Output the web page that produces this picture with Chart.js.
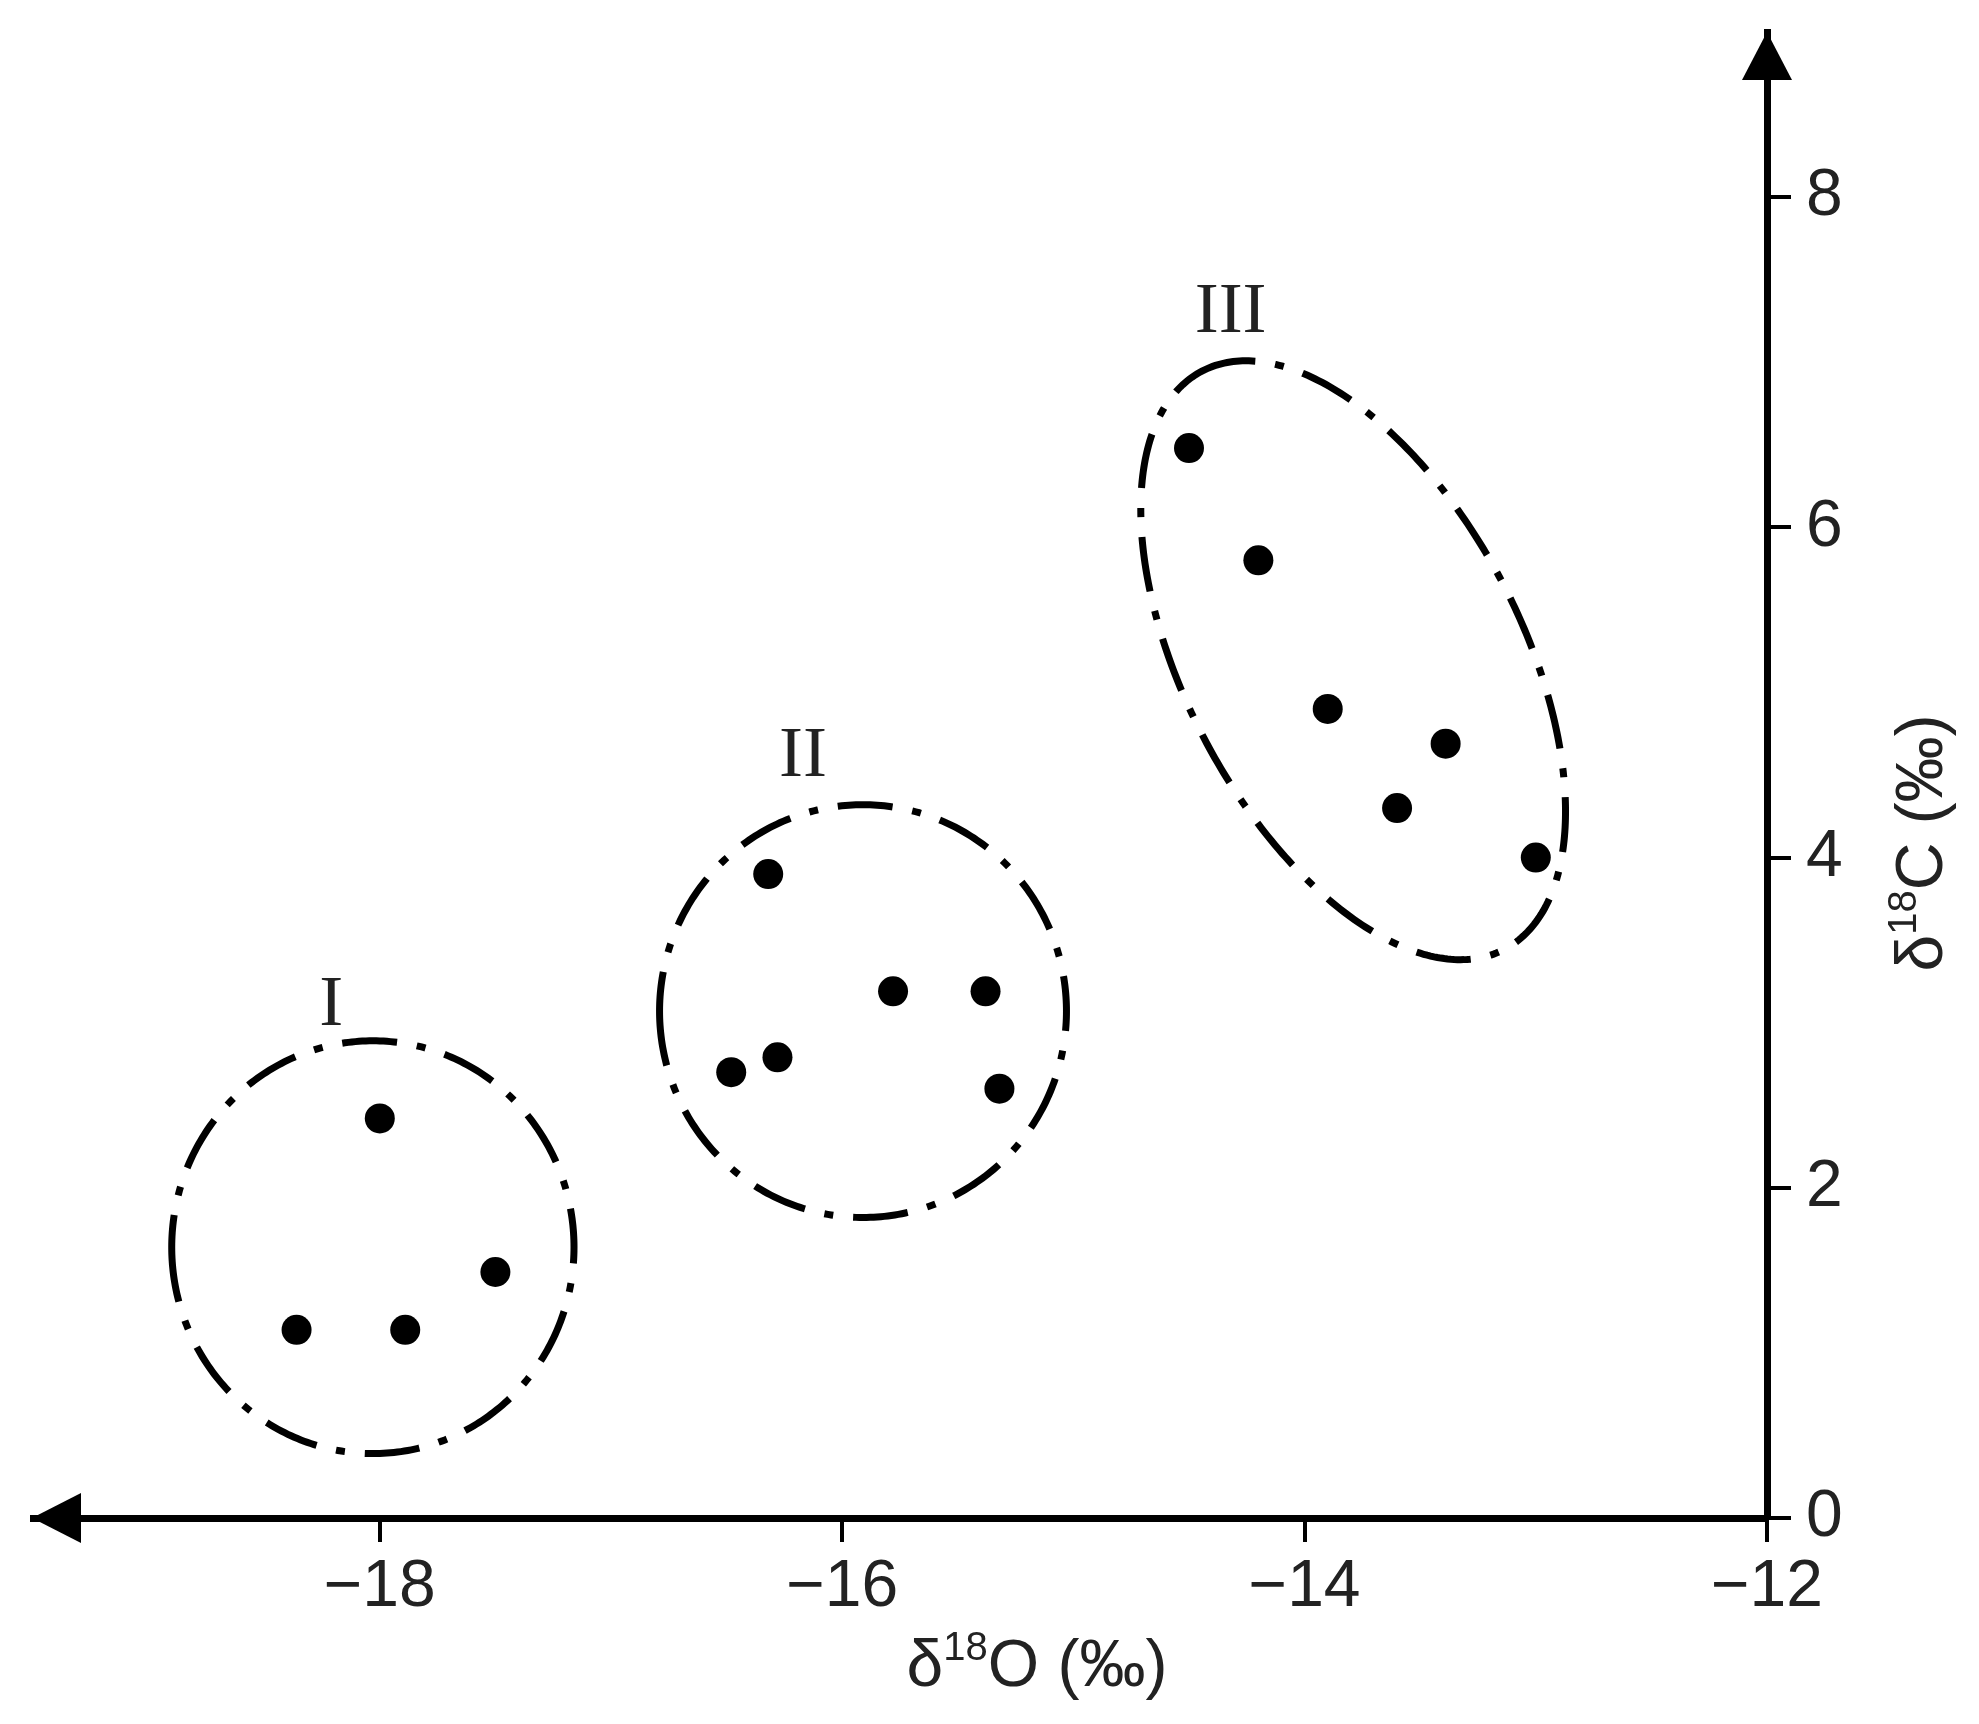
<!DOCTYPE html>
<html>
<head>
<meta charset="utf-8">
<script src="https://cdn.jsdelivr.net/npm/chart.js@4.4.1/dist/chart.umd.min.js"></script>
<style>
  html, body { margin: 0; padding: 0; background: #fff; }
</style>
</head>
<body>
<canvas id="myChart" width="1979" height="1724"></canvas>
<script>
// sample values (d18O on x, d13C on y) for each group
const groupI_x = [-18.0, -18.36, -17.89, -17.5];
const groupI_y = [2.42, 1.14, 1.14, 1.49];
const groupII_x = [-16.32, -16.48, -16.28, -15.78, -15.38, -15.32];
const groupII_y = [3.9, 2.7, 2.79, 3.19, 3.19, 2.6];
const groupIII_x = [-14.5, -14.2, -13.9, -13.39, -13.6, -13.0];
const groupIII_y = [6.48, 5.8, 4.9, 4.69, 4.3, 4.0];

const groupNames = ["I", "II", "III"];
const xTicks = [-18, -16, -14, -12];
const yTicks = [0, 2, 4, 6, 8];

// dashed envelopes round each group (data units): centre + two semi-axis vectors
const envCenterX = [-18.03, -15.91, -13.79];
const envCenterY = [1.64, 3.07, 5.195];
const envAxisU = [[0.87, 0], [0.88, 0], [0.654, -1.751]];
const envAxisV = [[0, 1.25], [0, 1.25], [-0.645, -0.472]];
const nameX = [-18.21, -16.17, -14.32];
const nameY = [3.1, 4.61, 7.3];

function pts(xs, ys) {
  return xs.map((x, i) => ({ x: x, y: ys[i] }));
}

function fmt(v) {
  return String(v).replace("-", "\u2212");
}

function deltaTitle(ctx, cx, cy, letter, angle) {
  const size = 66;
  const big = size + "px 'Liberation Sans'";
  const small = "40px 'Liberation Sans'";
  ctx.save();
  ctx.translate(cx, cy);
  ctx.rotate(angle);
  ctx.fillStyle = "#222";
  ctx.textAlign = "left";
  ctx.textBaseline = "alphabetic";
  const rest = letter + " (\u2030)";
  ctx.font = big;
  const w1 = ctx.measureText("\u03b4").width;
  const w3 = ctx.measureText(rest).width;
  ctx.font = small;
  const w2 = ctx.measureText("18").width;
  let x = -(w1 + w2 + w3) / 2;
  const base = size * 0.716 / 2;
  ctx.font = big;
  ctx.fillText("\u03b4", x, base);
  x += w1;
  ctx.font = small;
  ctx.fillText("18", x, base - 26);
  x += w2;
  ctx.font = big;
  ctx.fillText(rest, x, base);
  ctx.restore();
}

const decor = {
  id: "decor",
  beforeDatasetsDraw(chart) {
    const ctx = chart.ctx;
    const xs = chart.scales.x;
    const ys = chart.scales.y;
    ctx.save();
    ctx.strokeStyle = "#000";
    ctx.lineWidth = 7;
    ctx.setLineDash([55, 20, 9, 20]);
    for (let g = 0; g < envCenterX.length; g++) {
      ctx.beginPath();
      for (let k = 0; k <= 360; k++) {
        const t = (k / 360) * Math.PI * 2 + Math.PI;
        const dx = envAxisU[g][0] * Math.cos(t) + envAxisV[g][0] * Math.sin(t);
        const dy = envAxisU[g][1] * Math.cos(t) + envAxisV[g][1] * Math.sin(t);
        const px = xs.getPixelForValue(envCenterX[g] + dx);
        const py = ys.getPixelForValue(envCenterY[g] + dy);
        if (k === 0) ctx.moveTo(px, py);
        else ctx.lineTo(px, py);
      }
      ctx.closePath();
      ctx.stroke();
    }
    ctx.restore();
  },
  afterDraw(chart) {
    const ctx = chart.ctx;
    const a = chart.chartArea;
    const xs = chart.scales.x;
    const ys = chart.scales.y;
    ctx.save();
    // arrow heads
    ctx.fillStyle = "#000";
    ctx.beginPath();
    ctx.moveTo(a.left - 1, a.bottom);
    ctx.lineTo(a.left + 48, a.bottom - 25);
    ctx.lineTo(a.left + 48, a.bottom + 25);
    ctx.closePath();
    ctx.fill();
    ctx.beginPath();
    ctx.moveTo(a.right, a.top);
    ctx.lineTo(a.right - 25, a.top + 48);
    ctx.lineTo(a.right + 25, a.top + 48);
    ctx.closePath();
    ctx.fill();
    // group names
    ctx.fillStyle = "#222";
    ctx.font = "72px 'Liberation Serif'";
    ctx.textAlign = "center";
    ctx.textBaseline = "middle";
    for (let g = 0; g < groupNames.length; g++) {
      ctx.fillText(groupNames[g], xs.getPixelForValue(nameX[g]), ys.getPixelForValue(nameY[g]));
    }
    ctx.restore();
    deltaTitle(ctx, 1037, 1662, "O", 0);
    deltaTitle(ctx, 1918, 843, "C", -Math.PI / 2);
  }
};

const dotStyle = {
  pointRadius: 15,
  pointHoverRadius: 15,
  pointBorderWidth: 0,
  pointBackgroundColor: "#000",
  backgroundColor: "#000",
  borderColor: "#000"
};

new Chart("myChart", {
  type: "scatter",
  data: {
    datasets: [
      Object.assign({ label: "I", data: pts(groupI_x, groupI_y) }, dotStyle),
      Object.assign({ label: "II", data: pts(groupII_x, groupII_y) }, dotStyle),
      Object.assign({ label: "III", data: pts(groupIII_x, groupIII_y) }, dotStyle)
    ]
  },
  options: {
    responsive: false,
    animation: false,
    layout: { padding: { left: 33, top: 32, right: 0, bottom: 0 } },
    plugins: {
      legend: { display: false },
      tooltip: { enabled: false }
    },
    scales: {
      x: {
        type: "linear",
        position: "bottom",
        min: -19.5,
        max: -12,
        afterBuildTicks: (s) => { s.ticks = xTicks.map((v) => ({ value: v })); },
        afterFit: (s) => { s.height = 206; s.paddingLeft = 0; s.paddingRight = 0; },
        grid: { drawOnChartArea: false, drawTicks: true, tickLength: 24, color: "#000", lineWidth: 4 },
        border: { display: true, color: "#000", width: 7 },
        ticks: {
          color: "#222",
          padding: 6,
          font: { family: "Liberation Sans", size: 66 },
          callback: (v) => fmt(v)
        },
        title: { display: false }
      },
      y: {
        type: "linear",
        position: "right",
        min: 0,
        max: 9,
        afterBuildTicks: (s) => { s.ticks = yTicks.map((v) => ({ value: v })); },
        afterFit: (s) => { s.width = 212; s.paddingTop = 0; s.paddingBottom = 0; },
        grid: { drawOnChartArea: false, drawTicks: true, tickLength: 24, color: "#000", lineWidth: 4 },
        border: { display: true, color: "#000", width: 7 },
        ticks: {
          color: "#222",
          padding: 15,
          font: { family: "Liberation Sans", size: 66 },
          callback: (v) => fmt(v)
        },
        title: { display: false }
      }
    }
  },
  plugins: [decor]
});
</script>
</body>
</html>
